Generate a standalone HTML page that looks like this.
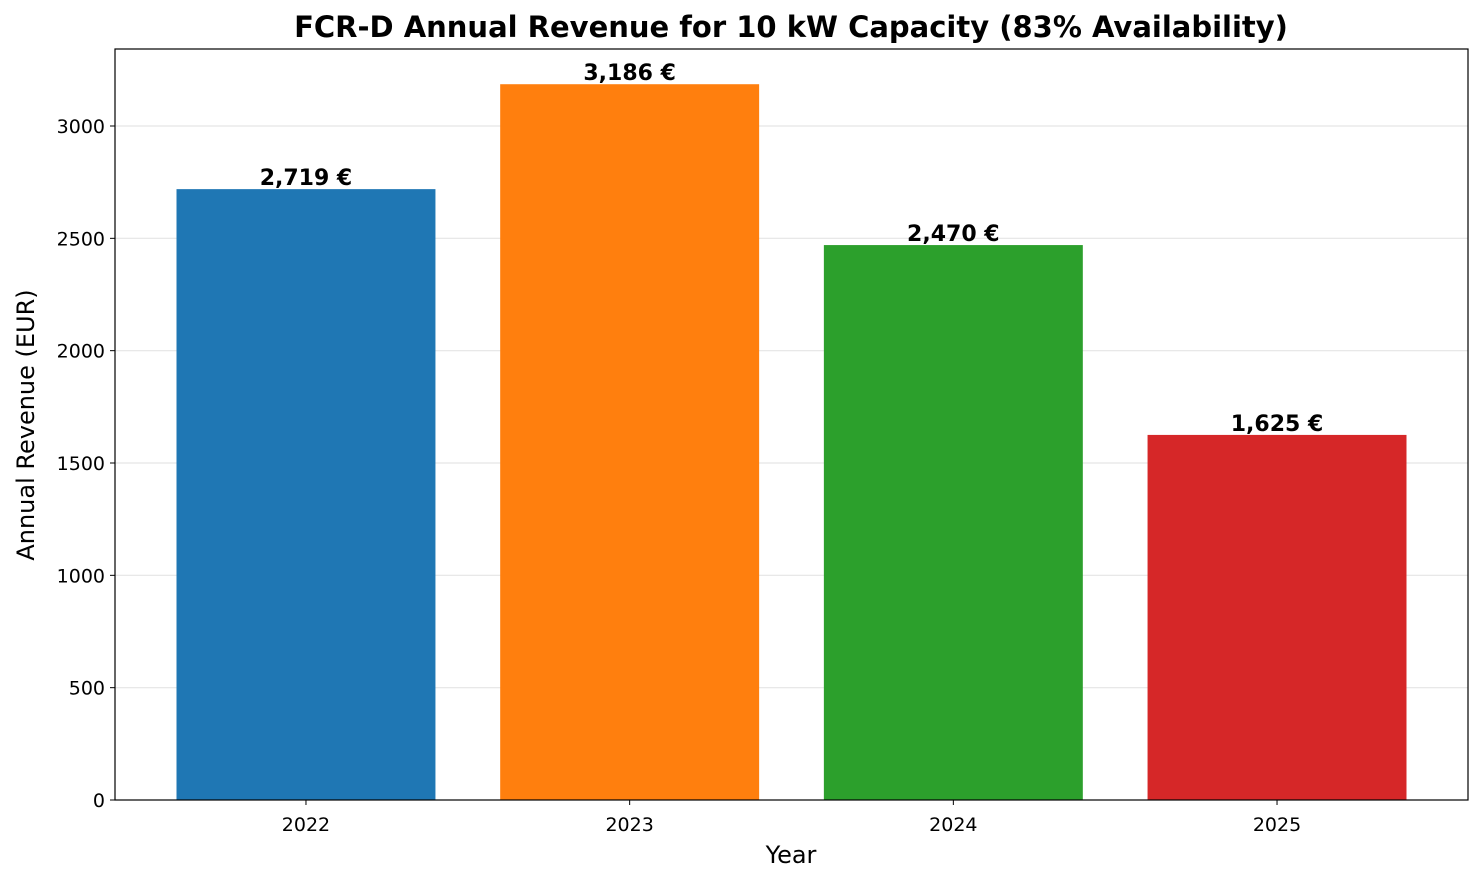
<!DOCTYPE html>
<html><head><meta charset="utf-8"><style>
body{margin:0;background:#fff;}
svg{display:block;font-family:"DejaVu Sans","Liberation Sans",sans-serif;}
</style></head><body>
<svg id="chart" width="1484" height="882" viewBox="0 0 1484 882" xmlns="http://www.w3.org/2000/svg">
<rect width="1484" height="882" fill="#fff"/>
<text x="791" y="37" text-anchor="middle" font-size="29" font-weight="bold">FCR-D Annual Revenue for 10 kW Capacity (83% Availability)</text>
<g id="grid"></g><g id="bars"></g><g id="labels"></g><g id="yticks"></g><g id="xticks"></g>
<rect x="115" y="49" width="1353" height="751" fill="none" stroke="#000" stroke-width="1.2"/>
<text x="791" y="863" text-anchor="middle" font-size="24">Year</text>
<text transform="translate(34,425) rotate(-90)" text-anchor="middle" font-size="24">Annual Revenue (EUR)</text>
</svg>
<script>
const categories=["2022","2023","2024","2025"];
const revenues=[2719,3186,2470,1625];
const valueLabels=["2,719 €","3,186 €","2,470 €","1,625 €"];
const yTicks=[0,500,1000,1500,2000,2500,3000];
const colors=["#1f77b4","#ff7f0e","#2ca02c","#d62728"];
const NS="http://www.w3.org/2000/svg";
const L=115,R=1468,T=49,B=800;
const y=v=>B-v*(B-126)/3000;
const x=i=>L+(i+0.59)*(R-L)/4.18;
const bw=0.8*(R-L)/4.18;
function mk(tag,attrs,parent,text){const e=document.createElementNS(NS,tag);for(const k in attrs)e.setAttribute(k,attrs[k]);if(text!==undefined)e.textContent=text;document.getElementById(parent).appendChild(e);return e;}
yTicks.forEach(v=>{
 if(v>0){const g=mk('line',{x1:L,x2:R,y1:y(v),y2:y(v),stroke:'#e5e5e5','stroke-width':1.2},'grid');
 
 }
 const t=mk('line',{x1:L-5,x2:L,y1:y(v),y2:y(v),stroke:'#000'},'yticks');
 
 
 const l=mk('text',{x:L-10,y:y(v)+7,'text-anchor':'end','font-size':19},'yticks',String(v));
 
 
});
categories.forEach((c,i)=>{
 const b=mk('rect',{x:x(i)-bw/2,y:y(revenues[i]),width:bw,height:B-y(revenues[i]),fill:colors[i]},'bars');
 
 
 const v=mk('text',{x:x(i),y:y(revenues[i])-4,'text-anchor':'middle','font-size':22,'font-weight':'bold'},'labels',valueLabels[i]);
 
 
 const t=mk('line',{x1:x(i),x2:x(i),y1:B,y2:B+5,stroke:'#000'},'xticks');
 
 
 const l=mk('text',{x:x(i),y:B+31,'text-anchor':'middle','font-size':19},'xticks',c);
 
 
});
</script>
</body></html>
